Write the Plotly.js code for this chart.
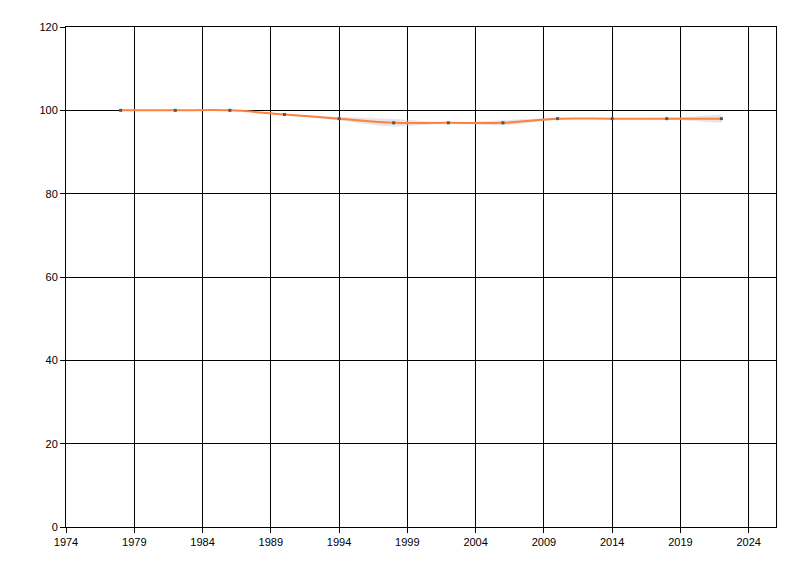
<!DOCTYPE html>
<html>
<head>
<meta charset="utf-8">
<script src="https://cdn.plot.ly/plotly-3.0.1.min.js"></script>
<style>html,body{margin:0;padding:0;background:#fff;}#chart{width:800px;height:576px;}</style>
</head>
<body>
<div id="chart"></div>
<script>
const years = [1978, 1982, 1986, 1990, 1994, 1998, 2002, 2006, 2010, 2014, 2018, 2022];
const values = [100, 100, 100, 99, 98, 97, 97, 97, 98, 98, 98, 98];
const bandWidth = [0, 0, 0, 0.1, 0.4, 0.9, 0.1, 0.6, 0.2, 0, 0.2, 1.0];
const xTicks = [1974, 1979, 1984, 1989, 1994, 1999, 2004, 2009, 2014, 2019, 2024];
const yTicks = [0, 20, 40, 60, 80, 100, 120];

const upper = values.map((v, i) => v + bandWidth[i]);
const lower = values.map((v, i) => v - bandWidth[i]);

const traces = [
  {x: years, y: upper, type: 'scatter', mode: 'lines', line: {width: 0, shape: 'spline'}, hoverinfo: 'skip', showlegend: false},
  {x: years, y: lower, type: 'scatter', mode: 'lines', line: {width: 0, shape: 'spline'}, fill: 'tonexty', fillcolor: 'rgba(190,190,190,0.4)', hoverinfo: 'skip', showlegend: false},
  {x: years, y: values, type: 'scatter', mode: 'lines+markers', line: {color: '#FF8040', width: 2, shape: 'spline'},
   marker: {symbol: 'square', size: 3, color: '#555555'}, showlegend: false}
];

const axisFont = {family: 'Liberation Sans, Arial, sans-serif', size: 11, color: '#000'};
const layout = {
  width: 800, height: 576,
  margin: {l: 66, r: 24, t: 27, b: 49},
  paper_bgcolor: '#fff', plot_bgcolor: '#fff',
  xaxis: {range: [1974, 2026], tickvals: xTicks, ticktext: xTicks.map(String), ticks: 'outside', ticklen: 5, tickcolor: '#000',
          showgrid: true, gridcolor: '#000', gridwidth: 1, showline: true, linecolor: '#000', linewidth: 1, mirror: true,
          zeroline: false, tickfont: axisFont},
  yaxis: {range: [0, 120], tickvals: yTicks, ticktext: yTicks.map(String), ticks: 'outside', ticklen: 5, tickcolor: '#000',
          showgrid: true, gridcolor: '#000', gridwidth: 1, showline: true, linecolor: '#000', linewidth: 1, mirror: true,
          zeroline: false, tickfont: axisFont}
};
Plotly.newPlot('chart', traces, layout, {displayModeBar: false, staticPlot: true});
</script>
</body>
</html>
